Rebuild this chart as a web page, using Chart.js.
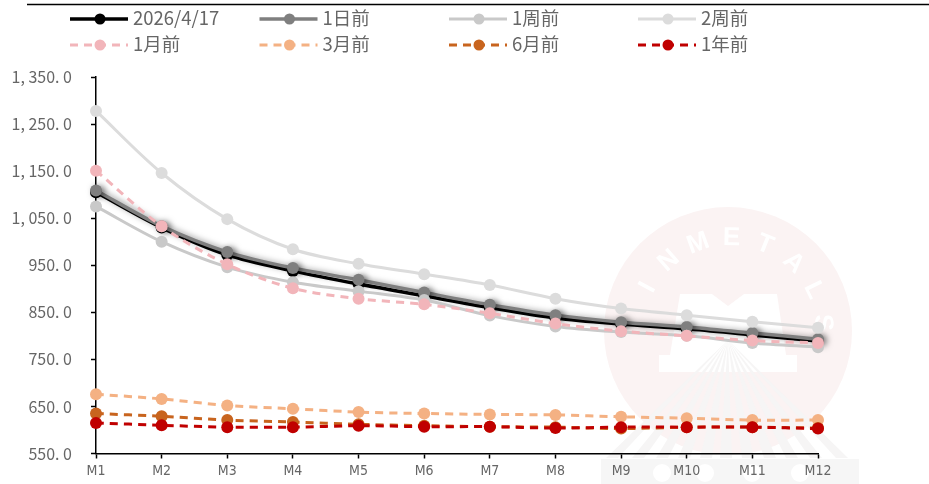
<!DOCTYPE html>
<html>
<head>
<meta charset="utf-8">
<title>月差曲线</title>
<script src="https://cdn.jsdelivr.net/npm/chart.js@4/dist/chart.umd.min.js"></script>
<style>
  html, body { margin: 0; padding: 0; background: #fff; }
  #curveChart { display: block; }
</style>
</head>
<body>
<canvas id="curveChart" width="929" height="484"></canvas>
<script>
// Contract months on the x axis
const months = ['M1', 'M2', 'M3', 'M4', 'M5', 'M6', 'M7', 'M8', 'M9', 'M10', 'M11', 'M12'];

// Forward curves by snapshot date
const latest = [1105, 1030, 972, 938, 910, 885, 860, 838, 825, 815, 802, 789];
const dayAgo = [1109, 1033, 978, 944, 919, 892, 866, 844, 829, 819, 806, 793];
const weekAgo = [1075, 1000, 946, 914, 895, 876, 843, 820, 808, 800, 785, 776];
const twoWeeksAgo = [1278, 1146, 1048, 984, 953, 931, 908, 879, 858, 844, 830, 817];
const monthAgo = [1151, 1033, 952, 901, 879, 867, 848, 826, 810, 800, 790, 785];
const threeMonthsAgo = [676, 666, 652, 645, 638, 635, 633, 632, 628, 625, 621, 621];
const sixMonthsAgo = [635, 629, 621, 617, 612, 609, 607, 606, 603, 606, 606, 604];
const yearAgo = [615, 610, 606, 606, 609, 607, 607, 604, 606, 606, 606, 603];

const yMin = 550;
const yMax = 1350;
const yStep = 100;

const textColor = '#666666';
const dashShort = [8, 6];

function series(label, data, color, width, dash, shadow) {
  return {
    label, data,
    borderColor: color,
    backgroundColor: color,
    borderWidth: width,
    borderDash: dash || [],
    tension: 0.32,
    pointRadius: 6,
    pointHoverRadius: 6,
    pointBorderWidth: 0,
    clip: false,
    shadow: shadow || null
  };
}

const datasets = [
  series('2026/4/17', latest, '#000000', 3.5),
  series('1日前', dayAgo, '#7f7f7f', 3.5, null, true),
  series('1周前', weekAgo, '#c9c9c9', 3),
  series('2周前', twoWeeksAgo, '#dcdcdc', 3),
  series('1月前', monthAgo, '#f2b5ba', 3, dashShort),
  series('3月前', threeMonthsAgo, '#f4b183', 3, dashShort),
  series('6月前', sixMonthsAgo, '#c8641e', 3, dashShort),
  series('1年前', yearAgo, '#c00000', 3, dashShort)
];
// later series sit on top of earlier ones
datasets.forEach((d, i) => { d.order = datasets.length - i; });

function formatTick(value) {
  const fixed = value.toFixed(1).replace('.', '. ');
  return value >= 1000 ? fixed.slice(0, 1) + ', ' + fixed.slice(1) : fixed;
}

// Faint company seal behind the axes and curves
const sealPlugin = {
  id: 'seal',
  beforeDraw(chart) {
    const ctx = chart.ctx;
    const cx = 728, cy = 331, r = 124;
    ctx.save();

    ctx.fillStyle = '#fbf3f3';
    ctx.beginPath();
    ctx.arc(cx, cy, r, 0, Math.PI * 2);
    ctx.fill();

    // lettering around the upper rim
    const letters = 'INMETALS';
    ctx.fillStyle = '#ffffff';
    ctx.font = 'bold 26px "Liberation Sans"';
    ctx.textAlign = 'center';
    ctx.textBaseline = 'middle';
    letters.split('').forEach((ch, i) => {
      const a = (-62 + i * 21) * Math.PI / 180;
      ctx.save();
      ctx.translate(730 + Math.sin(a) * 93, cy - Math.cos(a) * 93);
      ctx.rotate(a);
      ctx.fillText(ch, 0, 0);
      ctx.restore();
    });

    // block letter M and its base
    ctx.beginPath();
    ctx.moveTo(680, 294);
    ctx.lineTo(712, 294);
    ctx.lineTo(728, 306);
    ctx.lineTo(744, 294);
    ctx.lineTo(777, 294);
    ctx.lineTo(786, 355);
    ctx.lineTo(797, 355);
    ctx.lineTo(797, 372);
    ctx.lineTo(659, 372);
    ctx.lineTo(659, 355);
    ctx.lineTo(670, 355);
    ctx.closePath();
    ctx.fill();

    // fan of rays below the M
    ctx.fillStyle = '#f6f5f5';
    const apexX = 728, apexY = 340, rayBottom = 458;
    const rayEnds = [612, 638, 662, 684, 706, 726, 748, 770, 792, 816, 842];
    rayEnds.forEach(x => {
      ctx.beginPath();
      ctx.moveTo(apexX, apexY);
      ctx.lineTo(x - 6, rayBottom);
      ctx.lineTo(x + 6, rayBottom);
      ctx.closePath();
      ctx.fill();
    });

    // footing band with cut-outs, running off the bottom edge
    ctx.fillStyle = '#f6f6f6';
    ctx.fillRect(601, 459, 258, 25);
    ctx.fillStyle = '#ffffff';
    [[662, 473], [705, 473], [752, 473], [800, 473]].forEach(([x, y]) => {
      ctx.beginPath();
      ctx.arc(x, y, 9, 0, Math.PI * 2);
      ctx.fill();
    });
    ctx.restore();
  }
};

// Two-row legend with line and marker samples, plus the rule along the top
const legendPlugin = {
  id: 'curveLegend',
  afterDraw(chart) {
    const ctx = chart.ctx;
    ctx.save();
    ctx.strokeStyle = '#000';
    ctx.lineWidth = 1.5;
    ctx.beginPath();
    ctx.moveTo(27, 4.5);
    ctx.lineTo(929, 4.5);
    ctx.stroke();

    const colX = [70, 259.5, 449, 638];
    const rowY = [19, 45];
    ctx.font = '18.5px "Noto Sans CJK SC"';
    ctx.textBaseline = 'middle';
    ctx.textAlign = 'left';
    chart.data.datasets.forEach((d, i) => {
      const x = colX[i % 4];
      const y = rowY[Math.floor(i / 4)];
      ctx.strokeStyle = d.borderColor;
      ctx.lineWidth = d.borderWidth;
      ctx.setLineDash(d.borderDash);
      ctx.beginPath();
      ctx.moveTo(x, y);
      ctx.lineTo(x + 58, y);
      ctx.stroke();
      ctx.setLineDash([]);
      ctx.fillStyle = d.backgroundColor;
      ctx.beginPath();
      ctx.arc(x + 30, y, 5.5, 0, Math.PI * 2);
      ctx.fill();
      ctx.fillStyle = textColor;
      ctx.fillText(d.label, x + 63, y - 1);
    });
    ctx.restore();
  }
};

// Soft drop shadow on the series flagged for it
const shadowPlugin = {
  id: 'seriesShadow',
  beforeDatasetDraw(chart, args) {
    if (!chart.data.datasets[args.index].shadow) return;
    const ctx = chart.ctx;
    ctx.save();
    ctx.shadowColor = 'rgba(0,0,0,0.5)';
    ctx.shadowBlur = 6;
    ctx.shadowOffsetX = 3;
    ctx.shadowOffsetY = 1;
  },
  afterDatasetDraw(chart, args) {
    if (chart.data.datasets[args.index].shadow) chart.ctx.restore();
  }
};

const config = {
  type: 'line',
  data: { labels: months, datasets },
  plugins: [sealPlugin, shadowPlugin, legendPlugin],
  options: {
    responsive: false,
    animation: false,
    layout: { padding: { left: 0, right: 111, top: 77, bottom: 0 } },
    scales: {
      x: {
        offset: false,
        afterFit(scale) { scale.height = 30.5; scale.paddingLeft = 0; scale.paddingRight = 0; },
        grid: { drawOnChartArea: false, tickLength: 5, tickColor: '#000', tickWidth: 1.5 },
        border: { color: '#000', width: 1.5 },
        ticks: {
          color: textColor,
          padding: 4,
          maxRotation: 0,
          autoSkip: false,
          font: { family: '"DejaVu Sans Condensed", "DejaVu Sans"', size: 14 }
        }
      },
      y: {
        min: yMin,
        max: yMax,
        afterFit(scale) { scale.width = 96; },
        grid: { drawOnChartArea: false, tickLength: 5, tickColor: '#000', tickWidth: 1.5 },
        border: { color: '#000', width: 1.5 },
        ticks: {
          stepSize: yStep,
          color: textColor,
          padding: 19,
          font: { family: '"Noto Sans CJK SC"', size: 16 },
          callback: value => formatTick(value)
        }
      }
    },
    plugins: {
      legend: { display: false },
      tooltip: { enabled: false }
    }
  }
};

new Chart(document.getElementById('curveChart').getContext('2d'), config);
</script>
</body>
</html>
